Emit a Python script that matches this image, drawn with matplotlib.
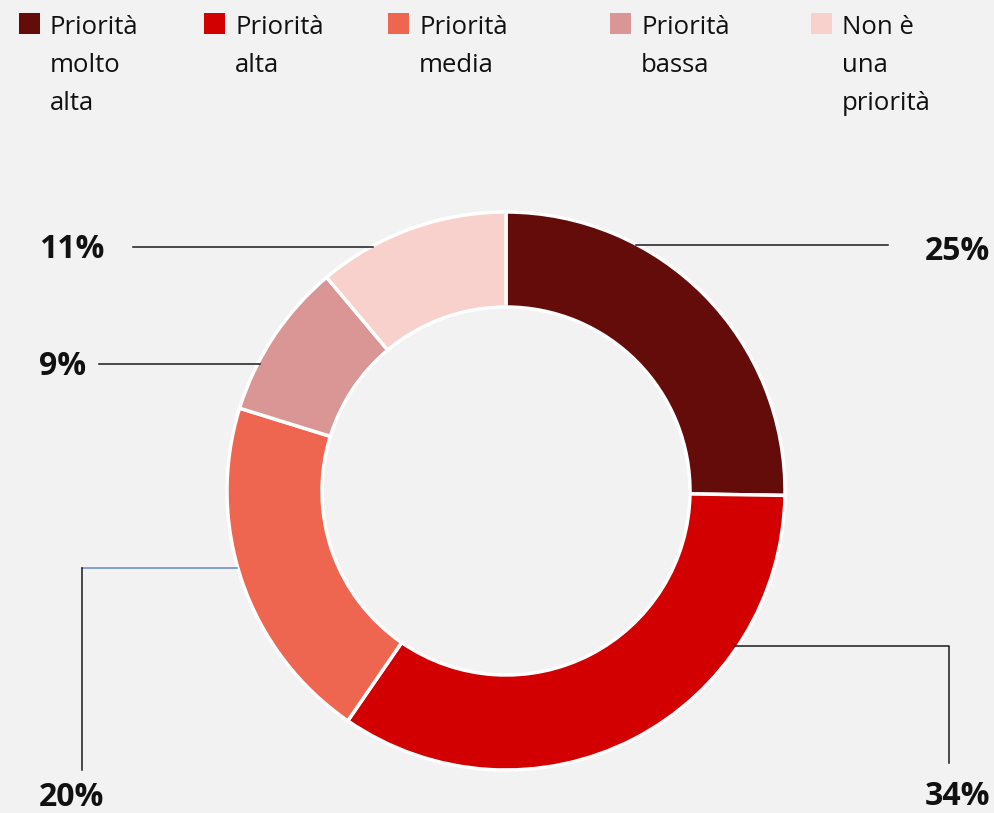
import matplotlib
matplotlib.use('Agg')
import matplotlib.pyplot as plt
from matplotlib.patches import Rectangle

plt.rcParams['font.family'] = ['Open Sans', 'DejaVu Sans']

categories = ['Priorità\nmolto\nalta', 'Priorità\nalta', 'Priorità\nmedia',
              'Priorità\nbassa', 'Non è\nuna\npriorità']
values = [25, 34, 20, 9, 11]
colors = ['#640C0A', '#D20000', '#EE6650', '#D99694', '#F8D0CC']

W, H = 995, 813
bg = '#F2F2F2'

def Y(py):
    # pixel row -> data y
    return H - py

fig = plt.figure(figsize=(W / 100, H / 100), dpi=100, facecolor=bg)
ax = fig.add_axes([0, 0, 1, 1])
ax.set_facecolor(bg)

ax.pie(values, colors=colors, startangle=90, counterclock=False,
       center=(506, Y(491)), radius=279,
       wedgeprops=dict(width=95, edgecolor='white', linewidth=2.5))
ax.set_xlim(0, W)
ax.set_ylim(0, H)
ax.set_aspect('equal')
ax.axis('off')

# leader lines
lc = '#1a1a1a'
ax.plot([636, 888], [Y(245), Y(245)], color=lc, lw=1.1)
ax.plot([735, 949, 949], [Y(646), Y(646), Y(763)], color=lc, lw=1.1)
ax.plot([237, 82], [Y(568), Y(568)], color='#7090CC', lw=1.2)
ax.plot([82, 82], [Y(568), Y(770)], color=lc, lw=1.1)
ax.plot([99, 260], [Y(364), Y(364)], color=lc, lw=1.1)
ax.plot([133, 373], [Y(247), Y(247)], color=lc, lw=1.1)

# percentage labels
label_pos = [(957, 251), (957, 796), (72, 797), (63, 367), (72, 250)]
for v, (px, py) in zip(values, label_pos):
    ax.text(px, Y(py), f'{v}%', ha='center', va='center',
            fontsize=23, fontweight='bold', color='#111111')

# legend
sq_x = [19, 204, 388, 610, 811]
for x0, lab, c in zip(sq_x, categories, colors):
    ax.add_patch(Rectangle((x0, Y(34)), 21, 21, color=c, lw=0))
    for i, line in enumerate(lab.split('\n')):
        ax.text(x0 + 31, Y(34 + 38 * i), line, ha='left', va='baseline',
                fontsize=18.5, color='#111111')

fig.savefig('out.png', dpi=100, facecolor=bg)
